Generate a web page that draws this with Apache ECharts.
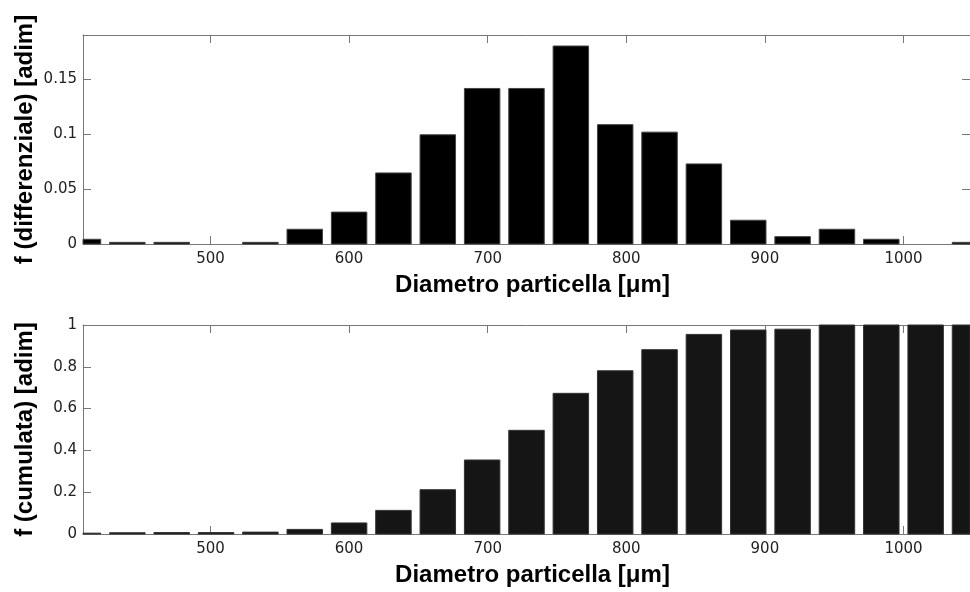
<!DOCTYPE html>
<html>
<head>
<meta charset="utf-8">
<script src="https://cdn.jsdelivr.net/npm/echarts@6/dist/echarts.min.js"></script>
<style>
  html, body { margin: 0; padding: 0; background: #fff; }
  #chart { width: 970px; height: 592px; }
</style>
</head>
<body>
<div id="chart"></div>
<script>
// diametri delle classi [um]
const diametri = [408, 440, 472, 504, 536, 568, 600, 632, 664, 696, 728, 760, 792, 824, 856, 888, 920, 952, 984, 1016, 1048];

// frequenza differenziale
const fDifferenziale = [0.0043, 0.0015, 0.0015, 0, 0.0015, 0.0134, 0.029, 0.0646, 0.0993, 0.1414, 0.1414, 0.180, 0.1085, 0.1017, 0.0728, 0.0216, 0.0067, 0.0134, 0.0043, 0, 0.0015];

// frequenza cumulata
const fCumulata = [0.004, 0.006, 0.007, 0.007, 0.009, 0.022, 0.053, 0.113, 0.212, 0.354, 0.496, 0.673, 0.781, 0.882, 0.955, 0.976, 0.98, 1, 1, 1, 1];

const xTicks = [500, 600, 700, 800, 900, 1000];

const FONT = 'DejaVu Sans, Liberation Sans, sans-serif';
const TITLE_FONT = 'Liberation Sans, Arial, sans-serif';
const AXIS_COLOR = '#777';
const BAR_WIDTH = 25.6; // in unita' dell'asse x (0.8 * passo di classe)

const pair = function (ys) {
	return diametri.map(function (x, i) { return [x, ys[i]]; });
};

// barre disegnate a mano per poterle tagliare sul bordo del riquadro
const renderBar = function (params, api) {
	const x = api.value(0);
	const y = api.value(1);
	if (!y) {
		return null;
	}
	const base = api.coord([x, 0]);
	const top = api.coord([x, y]);
	const half = api.size([BAR_WIDTH, 0])[0] / 2;
	const rect = echarts.graphic.clipRectByRect({
		x: base[0] - half,
		y: top[1],
		width: half * 2,
		height: base[1] - top[1]
	}, {
		x: params.coordSys.x,
		y: params.coordSys.y,
		width: params.coordSys.width,
		height: params.coordSys.height
	});
	return rect && { type: 'rect', shape: rect, style: api.style() };
};

const xBottom = function (gridIndex) {
	return {
		type: 'value', gridIndex: gridIndex, position: 'bottom',
		min: 408, max: 1048,
		name: 'Diametro particella [μm]',
		nameLocation: 'middle', nameGap: 29,
		nameTextStyle: { fontFamily: TITLE_FONT, fontSize: 24, fontWeight: 'bold', color: '#000', padding: [0, 0, 0, 12] },
		axisLine: { onZero: false, lineStyle: { color: AXIS_COLOR, width: 1 } },
		axisTick: { inside: true, length: 8, customValues: xTicks, lineStyle: { color: AXIS_COLOR } },
		axisLabel: {
			customValues: xTicks, fontFamily: FONT, fontSize: 15, color: '#222', margin: 8,
			formatter: function (v) { return String(v); }
		},
		splitLine: { show: false }
	};
};

const xTop = function (gridIndex) {
	return {
		type: 'value', gridIndex: gridIndex, position: 'top',
		min: 408, max: 1048,
		axisLine: { onZero: false, lineStyle: { color: AXIS_COLOR, width: 1 } },
		axisTick: { inside: true, length: 8, customValues: xTicks, lineStyle: { color: AXIS_COLOR } },
		axisLabel: { show: false },
		splitLine: { show: false }
	};
};

const yLeft = function (gridIndex, max, interval, name) {
	return {
		type: 'value', gridIndex: gridIndex, position: 'left',
		min: 0, max: max, interval: interval,
		name: name, nameLocation: 'middle', nameGap: 46, nameMoveOverlap: false,
		nameTextStyle: { fontFamily: TITLE_FONT, fontSize: 24, fontWeight: 'bold', color: '#000' },
		axisLine: { show: true, onZero: false, lineStyle: { color: AXIS_COLOR, width: 1 } },
		axisTick: { show: true, inside: true, length: 8, lineStyle: { color: AXIS_COLOR } },
		axisLabel: { fontFamily: FONT, fontSize: 15, color: '#222', margin: 6, showMaxLabel: max === 1 },
		splitLine: { show: false }
	};
};

const yRight = function (gridIndex, max, interval) {
	return {
		type: 'value', gridIndex: gridIndex, position: 'right',
		min: 0, max: max, interval: interval,
		axisLine: { show: true, onZero: false, lineStyle: { color: AXIS_COLOR, width: 1 } },
		axisTick: { show: true, inside: true, length: 8, lineStyle: { color: AXIS_COLOR } },
		axisLabel: { show: false },
		splitLine: { show: false }
	};
};

const chart = echarts.init(document.getElementById('chart'), null, { renderer: 'canvas' });

chart.setOption({
	backgroundColor: '#fff',
	animation: false,
	grid: [
		{ left: 83, top: 35, width: 896, height: 209 },
		{ left: 83, top: 325, width: 896, height: 209 }
	],
	xAxis: [xBottom(0), xTop(0), xBottom(1), xTop(1)],
	yAxis: [
		yLeft(0, 0.19, 0.05, 'f (differenziale) [adim]'),
		yRight(0, 0.19, 0.05),
		yLeft(1, 1, 0.2, 'f (cumulata) [adim]'),
		yRight(1, 1, 0.2)
	],
	series: [{
		type: 'custom',
		xAxisIndex: 0, yAxisIndex: 0,
		renderItem: renderBar,
		encode: { x: 0, y: 1 },
		itemStyle: { color: '#000', borderColor: '#444', borderWidth: 1 },
		data: pair(fDifferenziale)
	}, {
		type: 'custom',
		xAxisIndex: 2, yAxisIndex: 2,
		renderItem: renderBar,
		encode: { x: 0, y: 1 },
		itemStyle: { color: '#151515', borderColor: '#333', borderWidth: 1 },
		data: pair(fCumulata)
	}]
});
</script>
</body>
</html>
